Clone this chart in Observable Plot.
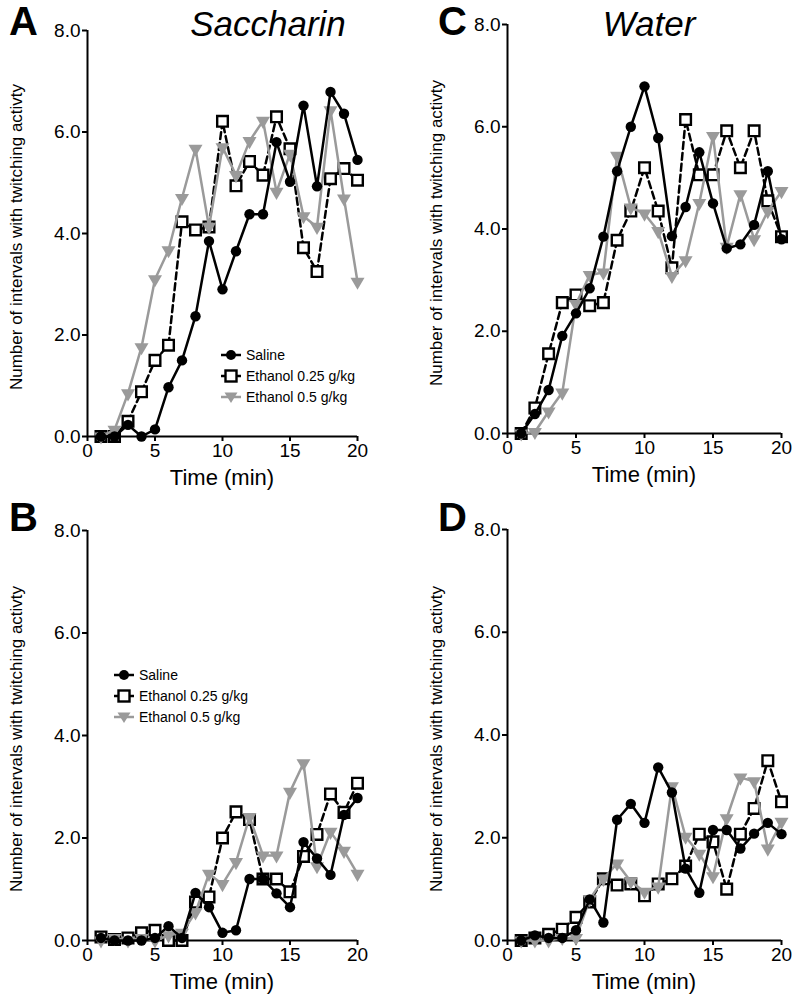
<!DOCTYPE html>
<html><head><meta charset="utf-8">
<script src="https://cdn.jsdelivr.net/npm/d3@7"></script>
<script src="https://cdn.jsdelivr.net/npm/@observablehq/plot@0.6"></script>
<style>
body{margin:0;background:#fff;font-family:"Liberation Sans",Arial,sans-serif;color:#000;}
#fig{position:relative;width:800px;height:1007px;overflow:hidden;}
.panel{position:absolute;}
.letter{position:absolute;font-weight:bold;font-size:40px;line-height:1;}
.title{position:absolute;font-style:italic;font-size:35px;line-height:1;transform:translateX(-50%);white-space:nowrap;}
.ytitle{position:absolute;font-size:17px;white-space:nowrap;transform:translate(-50%,-50%) rotate(-90deg);}
.xtitle{position:absolute;font-size:22px;white-space:nowrap;transform:translateX(-50%);}
.legend{position:absolute;font-size:14px;line-height:22px;}
.legend div{display:flex;align-items:center;height:21px;}
.legend svg{margin-right:4px;}
</style></head><body><div id="fig"></div>
<script>
const minutes = [1,2,3,4,5,6,7,8,9,10,11,12,13,14,15,16,17,18,19,20];
const xTicks = [0,5,10,15,20];
const yTicks = [0,2,4,6,8];
const seriesNames = ["Saline","Ethanol 0.25 g/kg","Ethanol 0.5 g/kg"];
const columnTitles = ["Saccharin","Water"];
const yTitle = "Number of intervals with twitching activty";
const xTitle = "Time (min)";

// Panel A (Saccharin, top)
const aSaline = [0,0,0.23,0,0.14,0.97,1.5,2.37,3.85,2.9,3.65,4.38,4.38,5.8,5.02,6.52,4.93,6.79,6.36,5.45];
const aEtoh025 = [0,0,0.3,0.88,1.5,1.8,4.23,4.07,4.13,6.21,4.94,5.42,5.15,6.3,5.67,3.72,3.25,5.08,5.28,5.05];
const aEtoh05 = [0,0.13,0.85,1.76,3.1,3.67,4.7,5.67,4.13,5.7,5.15,5.82,6.22,4.82,5.57,4.34,4.13,6.43,4.69,3.05];
// Panel C (Water, top)
const cSaline = [0,0.38,0.85,1.91,2.35,2.84,3.85,5.13,6.0,6.79,5.78,3.86,4.43,5.5,4.5,3.62,3.7,4.08,5.13,3.8];
const cEtoh025 = [0,0.5,1.56,2.56,2.71,2.5,2.56,3.78,4.35,5.2,4.35,3.24,6.14,5.06,5.06,5.92,5.2,5.92,4.55,3.85];
const cEtoh05 = [0,0.03,0.43,0.8,2.53,3.1,3.15,5.43,4.42,4.3,3.96,3.08,3.39,4.51,5.82,3.65,4.68,3.8,4.35,4.74];
// Panel B (Saccharin, bottom)
const bSaline = [0.05,0,0,0,0.05,0.28,0.05,0.93,0.65,0.15,0.2,1.2,1.2,0.92,0.65,1.92,1.6,1.28,2.45,2.78];
const bEtoh025 = [0.07,0.02,0.05,0.15,0.2,0,0,0.75,0.85,2.0,2.51,2.36,1.2,1.2,0.95,1.64,2.07,2.86,2.5,3.07];
const bEtoh05 = [0,0.05,0,0.05,0,0.1,0.15,0.55,1.3,1.1,1.53,2.41,1.66,1.66,2.9,3.46,1.45,2.12,1.75,1.3];
// Panel D (Water, bottom)
const dSaline = [0,0.1,0.05,0.05,0.2,0.8,0.35,2.35,2.66,2.29,3.37,2.88,1.4,0.93,2.15,2.15,1.79,2.08,2.29,2.07];
const dEtoh025 = [0,0.05,0.12,0.22,0.45,0.75,1.2,1.08,1.1,0.87,1.1,1.2,1.45,2.07,1.92,1.0,2.07,2.57,3.5,2.7];
const dEtoh05 = [0,0,0,0.05,0.05,0.8,1.2,1.5,1.15,0.95,1.05,3.0,2.02,1.69,1.25,2.38,3.17,3.1,1.79,2.31];

const GRAY = "#9a9a9a";
const LW = 2.5;
const fig = document.getElementById("fig");

function makePanel(p) {
  const rows = minutes.map((m, i) => ({m, s: p.saline[i], a: p.e25[i], b: p.e05[i]}));
  const chart = Plot.plot({
    width: 400, height: 500,
    marginLeft: p.mL, marginRight: p.mR, marginTop: p.mT, marginBottom: p.mB,
    x: {domain: [0, 20]},
    y: {domain: [0, 8]},
    style: {fontFamily: "Liberation Sans, Arial, sans-serif", color: "#000", background: "transparent", overflow: "visible"},
    marks: [
      Plot.axisX({ticks: xTicks, tickSize: 5, tickPadding: 2, fontSize: 19, label: null, strokeWidth: 2}),
      Plot.axisY({ticks: yTicks, tickSize: 5, tickPadding: 2, fontSize: 19, label: null, strokeWidth: 2, tickFormat: d3.format(".1f")}),
      Plot.ruleX([0], {y1: 0, y2: 8, stroke: "#000", strokeWidth: 2}),
      Plot.ruleY([0], {x1: 0, x2: 20, stroke: "#000", strokeWidth: 2}),
      Plot.lineY(rows, {x: "m", y: "a", stroke: "#000", strokeWidth: LW, strokeDasharray: "7,4"}),
      Plot.dot(rows, {x: "m", y: "a", symbol: "square", r: 6, fill: "#fff", stroke: "#000", strokeWidth: 2.4}),
      Plot.lineY(rows, {x: "m", y: "b", stroke: GRAY, strokeWidth: LW}),
      Plot.dot(rows, {x: "m", y: "b", symbol: "triangle", rotate: 180, r: 5.2, fill: GRAY, stroke: "none"}),
      Plot.lineY(rows, {x: "m", y: "s", stroke: "#000", strokeWidth: LW}),
      Plot.dot(rows, {x: "m", y: "s", r: 5.2, fill: "#000", stroke: "none"})
    ]
  });
  chart.classList.add("panel");
  chart.style.left = p.left + "px";
  chart.style.top = p.top + "px";
  fig.appendChild(chart);

  const plotTop = p.top + p.mT, plotBottom = p.top + 500 - p.mB;
  const axisX = p.left + p.mL, axisEnd = p.left + 400 - p.mR;

  const yt = document.createElement("div");
  yt.className = "ytitle";
  yt.textContent = yTitle;
  yt.style.left = (axisX - 70) + "px";
  yt.style.top = ((plotTop + plotBottom) / 2 + 4) + "px";
  fig.appendChild(yt);

  const xt = document.createElement("div");
  xt.className = "xtitle";
  xt.textContent = xTitle;
  xt.style.left = ((axisX + axisEnd) / 2) + "px";
  xt.style.top = (plotBottom + 29) + "px";
  fig.appendChild(xt);

  const L = document.createElement("div");
  L.className = "letter";
  L.textContent = p.letter;
  L.style.left = p.letterX + "px";
  L.style.top = p.letterY + "px";
  fig.appendChild(L);

  if (p.title) {
    const t = document.createElement("div");
    t.className = "title";
    t.textContent = p.title;
    t.style.left = p.titleX + "px";
    t.style.top = "6px";
    fig.appendChild(t);
  }
  if (p.legend) {
    const lg = document.createElement("div");
    lg.className = "legend";
    lg.style.left = p.legend[0] + "px";
    lg.style.top = p.legend[1] + "px";
    const sw = [
      `<svg width="22" height="14"><line x1="1" y1="7" x2="21" y2="7" stroke="#000" stroke-width="2.5"/><circle cx="11" cy="7" r="5" fill="#000"/></svg>`,
      `<svg width="22" height="14"><line x1="1" y1="7" x2="21" y2="7" stroke="#000" stroke-width="2.5"/><rect x="5.5" y="1.5" width="11" height="11" fill="#fff" stroke="#000" stroke-width="2.4"/></svg>`,
      `<svg width="22" height="14"><line x1="1" y1="7" x2="21" y2="7" stroke="${GRAY}" stroke-width="2.5"/><path d="M4.5,2.5 L17.5,2.5 L11,13 Z" fill="${GRAY}"/></svg>`
    ];
    lg.innerHTML = seriesNames.map((n, i) => `<div>${sw[i]}<span>${n}</span></div>`).join("");
    fig.appendChild(lg);
  }
}

makePanel({left: 0, top: 0, mL: 87, mR: 43, mT: 30, mB: 64, saline: aSaline, e25: aEtoh025, e05: aEtoh05,
  letter: "A", letterX: 9, letterY: 1, title: columnTitles[0], titleX: 268, legend: [220, 344]});
makePanel({left: 400, top: 0, mL: 107, mR: 19, mT: 24, mB: 67, saline: cSaline, e25: cEtoh025, e05: cEtoh05,
  letter: "C", letterX: 438, letterY: 1, title: columnTitles[1], titleX: 649});
makePanel({left: 0, top: 500, mL: 87, mR: 43, mT: 30, mB: 60, saline: bSaline, e25: bEtoh025, e05: bEtoh05,
  letter: "B", letterX: 9, letterY: 497, legend: [113, 664]});
makePanel({left: 400, top: 500, mL: 107, mR: 19, mT: 29, mB: 60, saline: dSaline, e25: dEtoh025, e05: dEtoh05,
  letter: "D", letterX: 438, letterY: 497});
</script></body></html>
